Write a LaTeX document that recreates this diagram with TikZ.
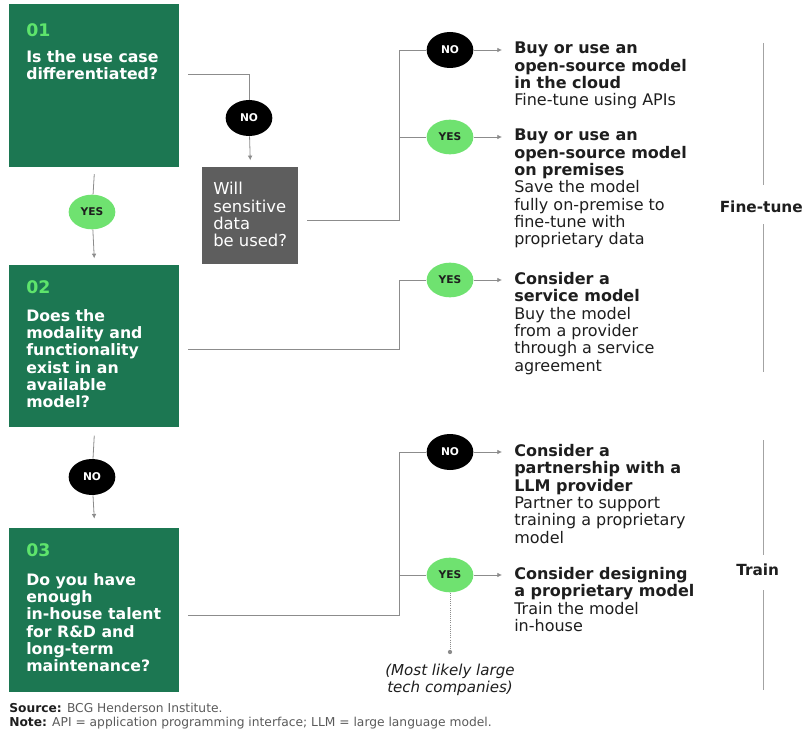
\documentclass[tikz,border=0pt]{standalone}
\usepackage{fontspec}
\setmainfont{DejaVu Sans}
\usetikzlibrary{shapes.geometric,arrows.meta,calc}
\definecolor{bcggreen}{HTML}{1C7752}
\definecolor{numgreen}{HTML}{5EE46C}
\definecolor{yesgreen}{HTML}{6FE270}
\definecolor{graybox}{HTML}{5E5E5E}
\definecolor{linegray}{HTML}{8C8C8C}
\definecolor{txtdark}{HTML}{1E1E1E}
\definecolor{notegray}{HTML}{5A5A5A}
\tikzset{
  qbox/.style={draw=none, fill=bcggreen, inner sep=0pt, anchor=north west},
  gbox/.style={draw=none, fill=graybox, inner sep=0pt, anchor=north west},
  num/.style={anchor=west, inner sep=0pt, text=numgreen, font=\fontsize{13}{14}\selectfont\bfseries},
  qtext/.style={anchor=north west, inner sep=0pt, align=left, text=white, font=\fontsize{11.8}{13}\selectfont\bfseries},
  gtext/.style={anchor=north west, inner sep=0pt, align=left, text=white, font=\fontsize{12.3}{13}\selectfont},
  otext/.style={anchor=north west, inner sep=0pt, align=left, text=txtdark, font=\fontsize{12}{13}\selectfont},
  nocirc/.style={ellipse, fill=black, text=white, inner sep=0pt, minimum width=35pt, minimum height=27pt, font=\fontsize{8}{8}\selectfont\bfseries},
  yescirc/.style={ellipse, fill=yesgreen, text=txtdark, inner sep=0pt, minimum width=35pt, minimum height=26pt, font=\fontsize{8}{8}\selectfont\bfseries},
  conn/.style={draw=linegray, line width=0.6pt},
  arr/.style={conn, -{Latex[length=3.5pt,width=3.5pt]}},
  side/.style={draw=linegray!80, line width=0.6pt},
  sidelabel/.style={inner sep=0pt, text=txtdark, font=\fontsize{11.5}{13}\selectfont\bfseries},
}
\begin{document}
\begin{tikzpicture}[x=0.75pt,y=-0.75pt]
\useasboundingbox (0,0) rectangle (804,735);

% question boxes
\node[qbox, minimum width=127.5pt, minimum height=122.25pt] (b1) at (9,4) {};
\node[qbox, minimum width=127.5pt, minimum height=121.5pt] (b2) at (9,265) {};
\node[qbox, minimum width=127.5pt, minimum height=123pt] (b3) at (9,528) {};
\node[gbox, minimum width=72pt, minimum height=72.75pt] (g) at (202,167) {};

\node[num] (n01) at (26,30) {01};
\node[qtext] (t01) at (26,50) {Is the use case\\differentiated?};
\node[num] (n02) at (26,287) {02};
\node[qtext] (t02) at (26,309) {Does the\\modality and\\functionality\\exist in an\\available\\model?};
\node[num] (n03) at (26,550) {03};
\node[qtext] (t03) at (26,573) {Do you have\\enough\\in-house talent\\for R\&D and\\long-term\\maintenance?};
\node[gtext] (tg) at (213,182) {Will\\sensitive\\data\\be used?};

% decision markers
\node[nocirc] (c1) at (249,118) {NO};
\node[yescirc] (c2) at (92,212) {YES};
\node[nocirc] (c3) at (92,477) {NO};
\node[nocirc] (d1) at (450,50) {NO};
\node[yescirc] (d2) at (450,137) {YES};
\node[yescirc] (d3) at (450,280) {YES};
\node[nocirc] (d4) at (450,452) {NO};
\node[yescirc] (d5) at (450,575) {YES};

% junction coordinates
\coordinate (o1) at (188,74);
\coordinate (og) at (307,220);
\coordinate (o2) at (188,349);
\coordinate (o3) at (188,615);
\coordinate (j1) at (399,50);
\coordinate (j2) at (399,280);
\coordinate (j3) at (399,452);
\coordinate (dot) at (450,652);

% outcome texts
\node[otext] (r1) at (514,42) {\textbf{Buy or use an}\\\textbf{open-source model}\\\textbf{in the cloud}\\Fine-tune using APIs};
\node[otext] (r2) at (514,129) {\textbf{Buy or use an}\\\textbf{open-source model}\\\textbf{on premises}\\Save the model\\fully on-premise to\\fine-tune with\\proprietary data};
\node[otext] (r3) at (514,272) {\textbf{Consider a}\\\textbf{service model}\\Buy the model\\from a provider\\through a service\\agreement};
\node[otext] (r4) at (514,444) {\textbf{Consider a}\\\textbf{partnership with a}\\\textbf{LLM provider}\\Partner to support\\training a proprietary\\model};
\node[otext] (r5) at (514,567) {\textbf{Consider designing}\\\textbf{a proprietary model}\\Train the model\\in-house};

% connectors
\draw[conn] (o1) -| (c1);
\draw[arr] (c1) -- ([yshift=5pt]g.north);
\draw[conn] ([yshift=-5pt]b1.south) -- (c2);
\draw[arr] (c2) -- ([yshift=5pt]b2.north);
\draw[conn] ([yshift=-6pt]b2.south) -- (c3);
\draw[arr] (c3) -- ([yshift=7pt]b3.north);

\draw[conn] (og) -| (j1) -- (d1);
\draw[conn] (og -| j1) |- (d2);
\draw[conn] (o2) -| (j2) -- (d3);
\draw[conn] (o3) -| (j3) -- (d4);
\draw[conn] (o3 -| j3) |- (d5);
\draw[arr] (d1) -- ([xshift=-9pt]r1.north west |- d1);
\draw[arr] (d2) -- ([xshift=-9pt]r2.north west |- d2);
\draw[arr] (d3) -- ([xshift=-9pt]r3.north west |- d3);
\draw[arr] (d4) -- ([xshift=-9pt]r4.north west |- d4);
\draw[arr] (d5) -- ([xshift=-9pt]r5.north west |- d5);

\draw[conn, densely dotted] (d5) -- (dot);
\fill[linegray] (dot) circle (1.6pt);
\node[anchor=north, inner sep=0pt, align=center, text=txtdark, font=\fontsize{11.3}{12.8}\selectfont\itshape] (ml) at (450,664) {(Most likely large\\tech companies)};

% side labels
\node[sidelabel, anchor=east] (ft) at (803,207) {Fine-tune};
\node[sidelabel, anchor=west] (tr) at (736,570) {Train};
\draw[side] (763,43) -- (763,185);
\draw[side] (763,224) -- (763,372);
\draw[side] (763,440) -- (763,555);
\draw[side] (763,590) -- (763,690);

% footer
\node[anchor=north west, inner sep=0pt, align=left, text=notegray, font=\fontsize{9.2}{10.5}\selectfont] (foot) at (9,702.5)
  {\textcolor{txtdark}{\textbf{Source:}} BCG Henderson Institute.\\\textcolor{txtdark}{\textbf{Note:}} API = application programming interface; LLM = large language model.};
\end{tikzpicture}
\end{document}
